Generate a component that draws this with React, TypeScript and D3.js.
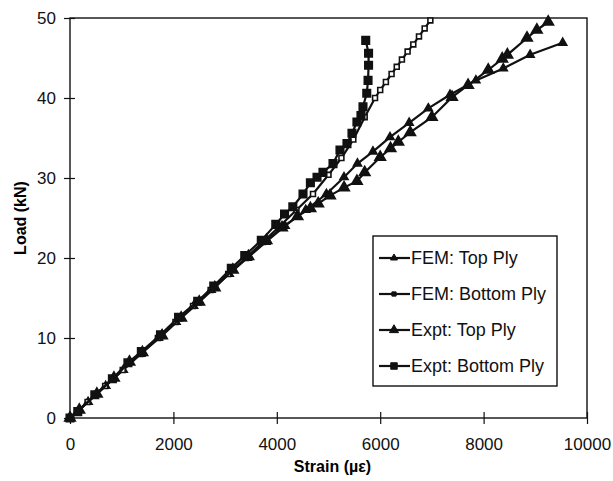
import React, { useEffect, useRef } from "react";
import * as d3 from "d3";

// [strain (µε), load (kN)]
const femTop: [number, number][] = [
  [0, 0], [350, 2], [690, 4], [1030, 6], [1370, 8], [1710, 10], [2050, 12], [2390, 14],
  [2730, 16], [3080, 18], [3430, 20], [3790, 22], [4160, 24], [4560, 26], [4960, 28],
  [5300, 30.1], [5560, 31.8], [5860, 33.3], [6190, 35.1], [6560, 36.9], [6930, 38.7],
  [7350, 40.4], [7850, 42.2], [8380, 43.7], [8900, 45.4], [9530, 46.9],
];

const femBottom: [number, number][] = [
  [0, 0], [340, 2], [680, 4], [1020, 6], [1360, 8], [1700, 10], [2040, 12], [2380, 14],
  [2720, 16], [3060, 18], [3400, 20], [3730, 22], [4060, 24], [4380, 26], [4700, 28],
  [5000, 30.4], [5250, 32.5], [5480, 34.8], [5700, 37.6], [5900, 40], [6000, 41],
  [6110, 42], [6220, 43], [6320, 43.9], [6420, 44.8], [6530, 45.8], [6640, 46.7],
  [6750, 47.7], [6860, 48.7], [6970, 49.7],
];

const exptTop: [number, number][] = [
  [0, 0], [180, 1], [520, 3], [850, 5], [1150, 7], [1400, 8.2], [1780, 10.3], [2150, 12.5],
  [2500, 14.5], [2800, 16.3], [3150, 18.5], [3450, 20.2], [3800, 22.2], [4100, 23.8],
  [4400, 25.2], [4650, 26.2], [4800, 26.8], [5030, 27.8], [5300, 28.8], [5550, 29.6],
  [5700, 30.7], [6000, 32.6], [6200, 33.7], [6350, 34.5], [6580, 35.7], [7000, 37.6],
  [7390, 40.1], [7700, 41.6], [8090, 43.5], [8360, 44.9], [8460, 45.4], [8840, 47.5],
  [9030, 48.5], [9250, 49.5],
];

const exptBottom: [number, number][] = [
  [0, 0], [150, 0.8], [480, 2.9], [820, 4.9], [1120, 6.9], [1380, 8.3], [1750, 10.4],
  [2100, 12.6], [2470, 14.6], [2780, 16.5], [3120, 18.7], [3380, 20.3], [3700, 22.2],
  [3980, 24.2], [4150, 25.5], [4310, 26.4], [4507, 28], [4650, 29.4], [4778, 30.1],
  [4893, 30.7], [5087, 31.8], [5222, 33.5], [5357, 34.3], [5454, 35.6], [5550, 37],
  [5628, 37.8], [5667, 38.9], [5740, 40.6], [5765, 42.2], [5775, 44.1], [5775, 45.6],
  [5720, 47.2],
];

const xTicks = [0, 2000, 4000, 6000, 8000, 10000];
const yTicks = [0, 10, 20, 30, 40, 50];
const legendLabels = ["FEM: Top Ply", "FEM: Bottom Ply", "Expt: Top Ply", "Expt: Bottom Ply"];

const App = () => {
  const svgRef = useRef<SVGSVGElement>(null);

  useEffect(() => {
    const width = 613;
    const height = 481;
    const margin = { top: 18, right: 26, bottom: 63, left: 70 };

    const svg = d3.select(svgRef.current);
    svg.selectAll("*").remove();
    svg.attr("width", width).attr("height", height);

    const x = d3.scaleLinear().domain([0, 10000]).range([margin.left, width - margin.right]);
    const y = d3.scaleLinear().domain([0, 50]).range([height - margin.bottom, margin.top]);

    const font = "'Liberation Sans', Arial, sans-serif";

    // frame
    svg
      .append("rect")
      .attr("x", x(0))
      .attr("y", y(50))
      .attr("width", x(10000) - x(0))
      .attr("height", y(0) - y(50))
      .attr("fill", "none")
      .attr("stroke", "#111")
      .attr("stroke-width", 1.4);

    // x axis
    const xAxis = svg
      .append("g")
      .attr("transform", `translate(0,${y(0)})`)
      .call(d3.axisBottom(x).tickValues(xTicks).tickSize(0).tickPadding(20).tickFormat(d3.format("d")));
    xAxis.select(".domain").remove();
    xAxis.selectAll("text").style("font-family", font).style("font-size", "17px").attr("fill", "#111");
    xAxis
      .selectAll(".tick")
      .append("line")
      .attr("y1", -6)
      .attr("y2", 6)
      .attr("stroke", "#111")
      .attr("stroke-width", 1.2);

    // y axis
    const yAxis = svg
      .append("g")
      .attr("transform", `translate(${x(0)},0)`)
      .call(d3.axisLeft(y).tickValues(yTicks).tickSize(0).tickPadding(14));
    yAxis.select(".domain").remove();
    yAxis.selectAll("text").style("font-family", font).style("font-size", "17px").attr("fill", "#111");
    yAxis
      .selectAll(".tick")
      .append("line")
      .attr("x1", -6)
      .attr("x2", 5)
      .attr("stroke", "#111")
      .attr("stroke-width", 1.2);

    // axis titles
    svg
      .append("text")
      .attr("x", (x(0) + x(10000)) / 2 + 4)
      .attr("y", 472)
      .attr("text-anchor", "middle")
      .style("font-family", font)
      .style("font-size", "16px")
      .style("font-weight", "bold")
      .text("Strain (\u00b5\u03b5)");

    svg
      .append("text")
      .attr("transform", `translate(26,${(y(0) + y(50)) / 2}) rotate(-90)`)
      .attr("text-anchor", "middle")
      .style("font-family", font)
      .style("font-size", "16px")
      .style("font-weight", "bold")
      .text("Load (kN)");

    const line = d3
      .line<[number, number]>()
      .x((d) => x(d[0]))
      .y((d) => y(d[1]));

    const series = [
      { data: femTop, shape: d3.symbolTriangle, size: 28, fill: "#111" },
      { data: femBottom, shape: d3.symbolSquare, size: 24, fill: "#fff" },
      { data: exptTop, shape: d3.symbolTriangle, size: 48, fill: "#111" },
      { data: exptBottom, shape: d3.symbolSquare, size: 56, fill: "#111" },
    ];

    series.forEach((s) => {
      svg
        .append("path")
        .datum(s.data)
        .attr("d", line)
        .attr("fill", "none")
        .attr("stroke", "#111")
        .attr("stroke-width", 2.2);

      svg
        .append("g")
        .selectAll("path")
        .data(s.data)
        .enter()
        .append("path")
        .attr("d", d3.symbol().type(s.shape).size(s.size)())
        .attr("transform", (d) => `translate(${x(d[0])},${y(d[1])})`)
        .attr("fill", s.fill)
        .attr("stroke", "#111")
        .attr("stroke-width", 1.6);
    });

    // legend
    const legend = svg.append("g").attr("transform", "translate(373,236)");
    legend
      .append("rect")
      .attr("width", 184)
      .attr("height", 150)
      .attr("fill", "#fff")
      .attr("stroke", "#111")
      .attr("stroke-width", 1.4);

    legendLabels.forEach((label, i) => {
      const ly = 22 + i * 36;
      legend
        .append("line")
        .attr("x1", 6)
        .attr("x2", 37)
        .attr("y1", ly)
        .attr("y2", ly)
        .attr("stroke", "#111")
        .attr("stroke-width", 2.2);
      legend
        .append("path")
        .attr("d", d3.symbol().type(series[i].shape).size(series[i].size * 0.75)())
        .attr("transform", `translate(21,${ly})`)
        .attr("fill", "#111")
        .attr("stroke", "#111")
        .attr("stroke-width", 1);
      legend
        .append("text")
        .attr("x", 38)
        .attr("y", ly + 6)
        .style("font-family", font)
        .style("font-size", "18px")
        .attr("fill", "#111")
        .text(label);
    });
  }, []);

  return <svg ref={svgRef} style={{ position: "absolute", left: 0, top: 0 }}></svg>;
};

export default App;
